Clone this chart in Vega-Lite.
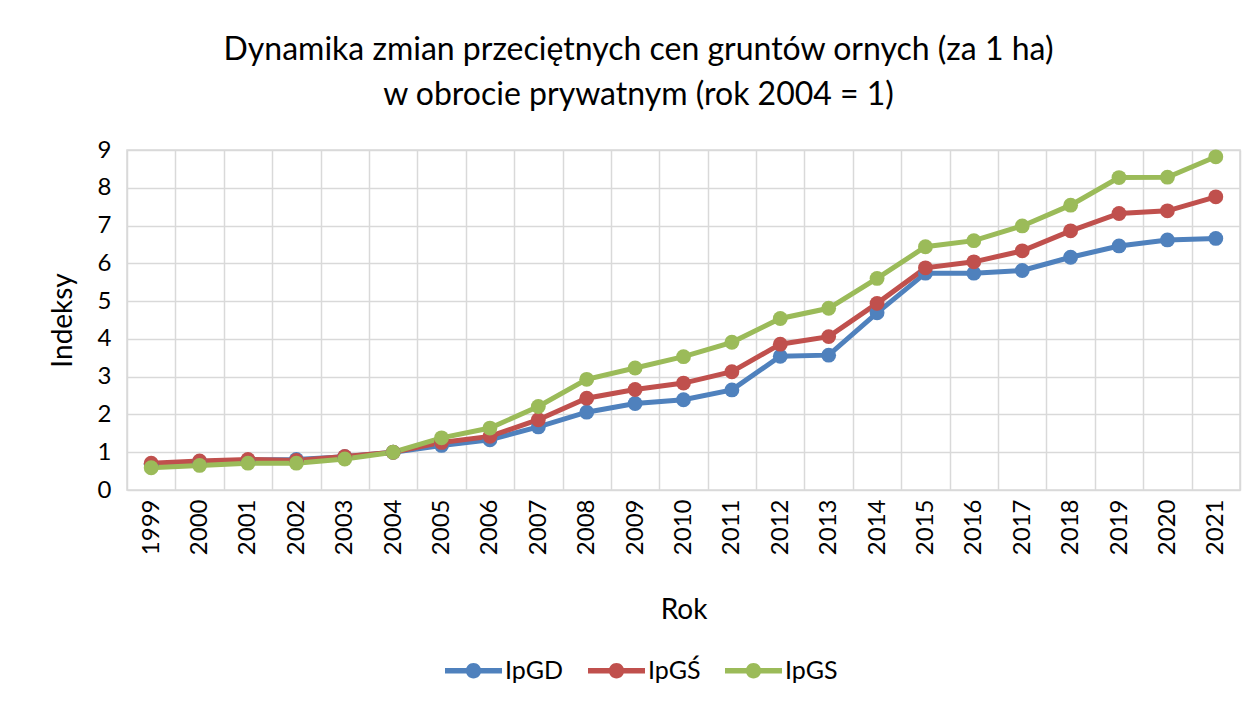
{
  "$schema": "https://vega.github.io/schema/vega-lite/v6.json",
  "width": 1113,
  "height": 340,
  "autosize": "none",
  "padding": {"left": 127, "top": 150, "right": 17, "bottom": 214},
  "background": "white",
  "config": {
    "font": "Lato",
    "view": {"stroke": "#D9D9D9", "strokeWidth": 1.5},
    "axis": {"labelColor": "#000", "titleColor": "#000", "labelFont": "Lato", "titleFont": "Lato"}
  },
  "title": {
    "text": ["Dynamika zmian przeciętnych cen gruntów ornych (za 1 ha)", "w obrocie prywatnym (rok 2004 = 1)"],
    "fontSize": 32,
    "fontWeight": "normal",
    "font": "Lato",
    "color": "#000",
    "anchor": "middle",
    "lineHeight": 45,
    "offset": 26,
    "dx": -45
  },
  "data": {
    "values": [
      {"rok": "1999", "seria": "IpGD", "v": 0.68}, {"rok": "1999", "seria": "IpGŚ", "v": 0.71}, {"rok": "1999", "seria": "IpGS", "v": 0.59},
      {"rok": "2000", "seria": "IpGD", "v": 0.75}, {"rok": "2000", "seria": "IpGŚ", "v": 0.77}, {"rok": "2000", "seria": "IpGS", "v": 0.65},
      {"rok": "2001", "seria": "IpGD", "v": 0.79}, {"rok": "2001", "seria": "IpGŚ", "v": 0.81}, {"rok": "2001", "seria": "IpGS", "v": 0.71},
      {"rok": "2002", "seria": "IpGD", "v": 0.81}, {"rok": "2002", "seria": "IpGŚ", "v": 0.78}, {"rok": "2002", "seria": "IpGS", "v": 0.71},
      {"rok": "2003", "seria": "IpGD", "v": 0.88}, {"rok": "2003", "seria": "IpGŚ", "v": 0.89}, {"rok": "2003", "seria": "IpGS", "v": 0.82},
      {"rok": "2004", "seria": "IpGD", "v": 1.0}, {"rok": "2004", "seria": "IpGŚ", "v": 1.0}, {"rok": "2004", "seria": "IpGS", "v": 1.0},
      {"rok": "2005", "seria": "IpGD", "v": 1.18}, {"rok": "2005", "seria": "IpGŚ", "v": 1.26}, {"rok": "2005", "seria": "IpGS", "v": 1.38},
      {"rok": "2006", "seria": "IpGD", "v": 1.33}, {"rok": "2006", "seria": "IpGŚ", "v": 1.42}, {"rok": "2006", "seria": "IpGS", "v": 1.64},
      {"rok": "2007", "seria": "IpGD", "v": 1.67}, {"rok": "2007", "seria": "IpGŚ", "v": 1.86}, {"rok": "2007", "seria": "IpGS", "v": 2.21},
      {"rok": "2008", "seria": "IpGD", "v": 2.06}, {"rok": "2008", "seria": "IpGŚ", "v": 2.43}, {"rok": "2008", "seria": "IpGS", "v": 2.93},
      {"rok": "2009", "seria": "IpGD", "v": 2.29}, {"rok": "2009", "seria": "IpGŚ", "v": 2.66}, {"rok": "2009", "seria": "IpGS", "v": 3.23},
      {"rok": "2010", "seria": "IpGD", "v": 2.39}, {"rok": "2010", "seria": "IpGŚ", "v": 2.83}, {"rok": "2010", "seria": "IpGS", "v": 3.53},
      {"rok": "2011", "seria": "IpGD", "v": 2.65}, {"rok": "2011", "seria": "IpGŚ", "v": 3.13}, {"rok": "2011", "seria": "IpGS", "v": 3.91},
      {"rok": "2012", "seria": "IpGD", "v": 3.54}, {"rok": "2012", "seria": "IpGŚ", "v": 3.86}, {"rok": "2012", "seria": "IpGS", "v": 4.54},
      {"rok": "2013", "seria": "IpGD", "v": 3.57}, {"rok": "2013", "seria": "IpGŚ", "v": 4.06}, {"rok": "2013", "seria": "IpGS", "v": 4.81},
      {"rok": "2014", "seria": "IpGD", "v": 4.69}, {"rok": "2014", "seria": "IpGŚ", "v": 4.94}, {"rok": "2014", "seria": "IpGS", "v": 5.6},
      {"rok": "2015", "seria": "IpGD", "v": 5.74}, {"rok": "2015", "seria": "IpGŚ", "v": 5.88}, {"rok": "2015", "seria": "IpGS", "v": 6.44},
      {"rok": "2016", "seria": "IpGD", "v": 5.74}, {"rok": "2016", "seria": "IpGŚ", "v": 6.04}, {"rok": "2016", "seria": "IpGS", "v": 6.6},
      {"rok": "2017", "seria": "IpGD", "v": 5.81}, {"rok": "2017", "seria": "IpGŚ", "v": 6.33}, {"rok": "2017", "seria": "IpGS", "v": 6.99},
      {"rok": "2018", "seria": "IpGD", "v": 6.16}, {"rok": "2018", "seria": "IpGŚ", "v": 6.86}, {"rok": "2018", "seria": "IpGS", "v": 7.54},
      {"rok": "2019", "seria": "IpGD", "v": 6.46}, {"rok": "2019", "seria": "IpGŚ", "v": 7.32}, {"rok": "2019", "seria": "IpGS", "v": 8.27},
      {"rok": "2020", "seria": "IpGD", "v": 6.62}, {"rok": "2020", "seria": "IpGŚ", "v": 7.39}, {"rok": "2020", "seria": "IpGS", "v": 8.28},
      {"rok": "2021", "seria": "IpGD", "v": 6.66}, {"rok": "2021", "seria": "IpGŚ", "v": 7.76}, {"rok": "2021", "seria": "IpGS", "v": 8.82}
    ]
  },
  "encoding": {
    "x": {
      "field": "rok", "type": "ordinal",
      "scale": {"type": "band", "paddingInner": 0, "paddingOuter": 0},
      "axis": {
        "title": "Rok", "titleFontSize": 28, "titleFontWeight": "normal", "titlePadding": 42,
        "labelAngle": -90, "labelFontSize": 24, "labelPadding": 9,
        "ticks": false, "domain": false, "grid": true, "tickBand": "extent",
        "gridColor": "#D9D9D9", "gridWidth": 1.5
      }
    },
    "y": {
      "field": "v", "type": "quantitative",
      "scale": {"domain": [0, 9], "nice": false},
      "axis": {
        "title": "Indeksy", "titleFontSize": 28, "titleFontWeight": "normal", "titlePadding": 20,
        "values": [0, 1, 2, 3, 4, 5, 6, 7, 8, 9], "labelFontSize": 24, "labelPadding": 16,
        "ticks": false, "domain": false, "grid": true, "gridColor": "#D9D9D9", "gridWidth": 1.5
      }
    },
    "color": {
      "field": "seria", "type": "nominal",
      "scale": {"domain": ["IpGD", "IpGŚ", "IpGS"], "range": ["#4F81BD", "#C0504D", "#9BBB59"]},
      "legend": {
        "title": null, "orient": "none", "direction": "horizontal",
        "legendX": 318, "legendY": 492,
        "labelFontSize": 25, "labelFont": "Lato", "labelColor": "#000",
        "symbolType": "M-1,-0.1 H1 V0.1 H-1 Z M-0.27,0 A0.27,0.27 0 1,1 0.27,0 A0.27,0.27 0 1,1 -0.27,0 Z",
        "symbolSize": 3249, "symbolStrokeWidth": 0, "symbolOpacity": 1,
        "columnPadding": 24, "labelOffset": 3
      }
    }
  },
  "layer": [
    {"mark": {"type": "line", "strokeWidth": 5}},
    {"mark": {"type": "point", "filled": true, "size": 220, "opacity": 1}}
  ]
}
